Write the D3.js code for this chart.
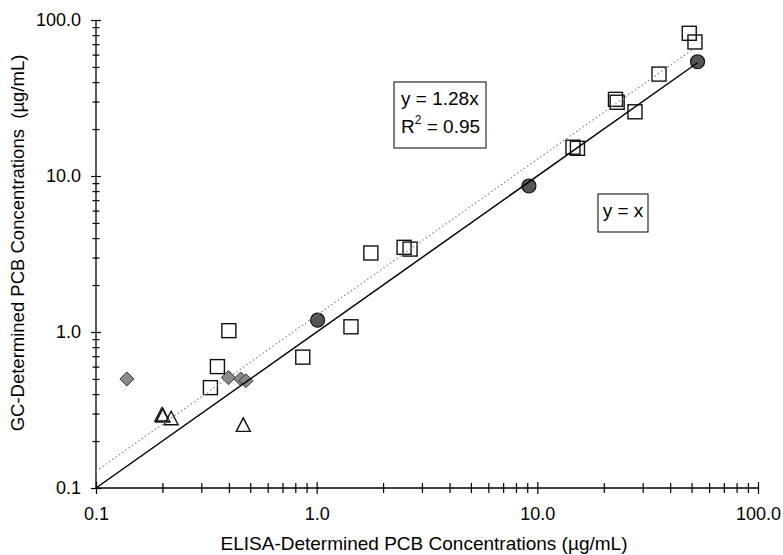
<!DOCTYPE html>
<html>
<head>
<meta charset="utf-8">
<script src="https://cdn.jsdelivr.net/npm/d3@7"></script>
<style>
body{margin:0;background:#fff;}
text{font-family:Arial,"Liberation Sans",sans-serif;fill:#000;}
</style>
</head>
<body>
<script>
// values (ug/mL)
var squareX=[0.33,0.355,0.40,0.865,1.43,1.76,2.49,2.65,14.5,15.2,22.6,23.0,27.7,35.6,48.8,51.8];
var squareY=[0.44,0.60,1.02,0.69,1.08,3.21,3.49,3.40,15.3,15.05,31.0,29.7,25.8,45.0,82.2,72.3];
var circleX=[1.01,9.16,53.2];
var circleY=[1.19,8.63,54.0];
var diamondX=[0.138,0.398,0.453,0.478];
var diamondY=[0.50,0.51,0.50,0.487];
var triangleX=[0.199,0.201,0.219,0.465];
var triangleY=[0.296,0.291,0.280,0.254];
var fitSlope=1.28, fitR2=0.95;
var lineEnd=[53.2,51];
var decades=[0.1,1,10,100];

var width=783,height=555;
var svg=d3.select("body").append("svg").attr("width",width).attr("height",height);

var x=d3.scaleLog().domain([0.1,100]).range([96,758]);
var y=d3.scaleLog().domain([0.1,100]).range([488,20]);

var minor=[];
decades.slice(0,3).forEach(function(d){for(var k=2;k<=9;k++)minor.push(d*k);});
var allTicks=decades.concat(minor);
var fmt=function(d){return decades.indexOf(d)>=0?d3.format(".1f")(d):"";};

// axes
var gx=svg.append("g").attr("transform","translate(0,488)").call(d3.axisBottom(x).tickValues(allTicks).tickFormat(fmt));
gx.select(".domain").attr("d","M96,0H758").attr("stroke","#000").attr("stroke-width",1.3);
gx.selectAll(".tick line").attr("stroke","#000").attr("stroke-width",1.2)
  .attr("y1",function(d){return decades.indexOf(d)>=0?-6:-5;})
  .attr("y2",function(d){return decades.indexOf(d)>=0?6:5;});
gx.selectAll(".tick text").attr("y",19).attr("font-size",18).attr("font-family","Arial, 'Liberation Sans', sans-serif").attr("fill","#000");

var gy=svg.append("g").attr("transform","translate(96,0)").call(d3.axisLeft(y).tickValues(allTicks).tickFormat(fmt));
gy.select(".domain").attr("d","M0,20V488").attr("stroke","#000").attr("stroke-width",1.3);
gy.selectAll(".tick line").attr("stroke","#000").attr("stroke-width",1.2)
  .attr("x1",function(d){return decades.indexOf(d)>=0?-5:-3.5;})
  .attr("x2",function(d){return decades.indexOf(d)>=0?5:3.5;});
gy.selectAll(".tick text").attr("x",-15).attr("font-size",18).attr("font-family","Arial, 'Liberation Sans', sans-serif").attr("fill","#000");

// axis titles
svg.append("text").attr("x",424).attr("y",550).attr("text-anchor","middle").attr("font-size",19)
  .text("ELISA-Determined PCB Concentrations (\u00b5g/mL)");
svg.append("text").attr("transform","translate(24,243) rotate(-90)").attr("text-anchor","middle").attr("font-size",18.5)
  .attr("xml:space","preserve").style("white-space","pre")
  .text("GC-Determined PCB Concentrations  (\u00b5g/mL)");

// markers
var sq=d3.zip(squareX,squareY);
svg.append("g").selectAll("rect").data(sq).enter().append("rect")
  .attr("x",function(d){return x(d[0])-7;}).attr("y",function(d){return y(d[1])-7;})
  .attr("width",14).attr("height",14).attr("fill","none").attr("stroke","#111").attr("stroke-width",1.4);

var tri=d3.zip(triangleX,triangleY);
svg.append("g").selectAll("path").data(tri).enter().append("path")
  .attr("transform",function(d){return "translate("+x(d[0])+","+y(d[1])+")";})
  .attr("d","M0,-7L7,6.5L-7,6.5Z").attr("fill","none").attr("stroke","#111").attr("stroke-width",1.4);

var dia=d3.zip(diamondX,diamondY);
svg.append("g").selectAll("path").data(dia).enter().append("path")
  .attr("transform",function(d){return "translate("+x(d[0])+","+y(d[1])+")";})
  .attr("d","M0,-7L7,0L0,7L-7,0Z").attr("fill","#8a8a8a").attr("stroke","#333").attr("stroke-width",1);

var circ=d3.zip(circleX,circleY);
svg.append("g").selectAll("circle").data(circ).enter().append("circle")
  .attr("cx",function(d){return x(d[0]);}).attr("cy",function(d){return y(d[1]);})
  .attr("r",7).attr("fill","#555").attr("stroke","#111").attr("stroke-width",1.2);

// lines: y = x and fitted y = 1.28x
var line=d3.line().x(function(d){return x(d[0]);}).y(function(d){return y(d[1]);});
svg.append("path").datum([[0.1,0.1],[lineEnd[0],lineEnd[0]]]).attr("d",line)
  .attr("fill","none").attr("stroke","#000").attr("stroke-width",1.5);
svg.append("path").datum([[0.1,0.1*fitSlope],[lineEnd[1],lineEnd[1]*fitSlope]]).attr("d",line)
  .attr("fill","none").attr("stroke","#888").attr("stroke-width",1.2).attr("stroke-dasharray","1.5,2.5");

// annotation boxes
svg.append("rect").attr("x",394).attr("y",82).attr("width",92).attr("height",66).attr("fill","#fff").attr("stroke","#000").attr("stroke-width",1);
svg.append("text").attr("x",401).attr("y",105).attr("font-size",19).text("y = "+fitSlope+"x");
var t2=svg.append("text").attr("x",401).attr("y",133).attr("font-size",19);
t2.append("tspan").text("R");
t2.append("tspan").attr("font-size",12).attr("dy",-9).text("2");
t2.append("tspan").attr("dy",9).text(" = "+fitR2);

svg.append("rect").attr("x",598).attr("y",194).attr("width",50).attr("height",38).attr("fill","#fff").attr("stroke","#000").attr("stroke-width",1);
svg.append("text").attr("x",623).attr("y",217).attr("text-anchor","middle").attr("font-size",19).text("y = x");
</script>
</body>
</html>
